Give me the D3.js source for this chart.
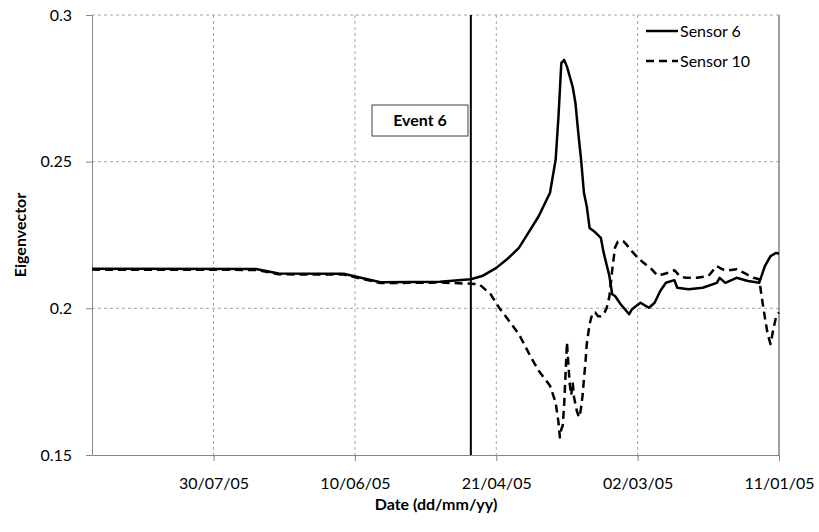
<!DOCTYPE html>
<html>
<head>
<meta charset="utf-8">
<script src="https://cdn.jsdelivr.net/npm/d3@7"></script>
<style>
  body { margin: 0; background: #fff; }
  svg { font-family: Lato, "Open Sans", sans-serif; }
</style>
</head>
<body>
<svg id="drawing_region"></svg>
<script>
// dates shown on the axis (axis runs backwards in time)
const tickDates = ["2005-07-30", "2005-06-10", "2005-04-21", "2005-03-02", "2005-01-11"];
const yTicks = [0.15, 0.2, 0.25, 0.3];
const eventDate = "2005-04-30";
const eventLabel = "Event 6";
const seriesNames = ["Sensor 6", "Sensor 10"];

const sensor6Dates = [
  "2005-09-11", "2005-07-15", "2005-07-07", "2005-06-14", "2005-06-01", "2005-05-11",
  "2005-04-30", "2005-04-26", "2005-04-21", "2005-04-17", "2005-04-13", "2005-04-10",
  "2005-04-06", "2005-04-02", "2005-03-31", "2005-03-30", "2005-03-29", "2005-03-28",
  "2005-03-27", "2005-03-25", "2005-03-24", "2005-03-23", "2005-03-22", "2005-03-21",
  "2005-03-20", "2005-03-19", "2005-03-17", "2005-03-15", "2005-03-14", "2005-03-12",
  "2005-03-11", "2005-03-10", "2005-03-08", "2005-03-05", "2005-03-04", "2005-03-01",
  "2005-02-26", "2005-02-24", "2005-02-22", "2005-02-20", "2005-02-17", "2005-02-16",
  "2005-02-12", "2005-02-07", "2005-02-02", "2005-02-01", "2005-01-30", "2005-01-26",
  "2005-01-22", "2005-01-18", "2005-01-16", "2005-01-14", "2005-01-12", "2005-01-11"
];
const sensor6Values = [
  0.2135, 0.2134, 0.2119, 0.2118, 0.2089, 0.2091,
  0.2099, 0.2110, 0.2138, 0.2169, 0.2206, 0.2252,
  0.2314, 0.2394, 0.2507, 0.2654, 0.2836, 0.2847,
  0.2824, 0.2756, 0.2700, 0.2598, 0.2507, 0.2394,
  0.2348, 0.2274, 0.2259, 0.2240, 0.2189, 0.2110,
  0.2048, 0.2042, 0.2014, 0.1980, 0.1997, 0.2019,
  0.2002, 0.2019, 0.2059, 0.2087, 0.2096, 0.2070,
  0.2065, 0.2070, 0.2087, 0.2104, 0.2087, 0.2104,
  0.2093, 0.2087, 0.2144, 0.2178, 0.2189, 0.2186
];

const sensor10Dates = [
  "2005-09-11", "2005-07-15", "2005-07-07", "2005-06-14", "2005-06-01", "2005-05-11",
  "2005-04-30", "2005-04-27", "2005-04-23", "2005-04-20", "2005-04-16", "2005-04-13",
  "2005-04-09", "2005-04-06", "2005-04-02", "2005-03-31", "2005-03-30", "2005-03-29T12:00",
  "2005-03-29", "2005-03-28T12:00", "2005-03-28", "2005-03-27T12:00", "2005-03-27", "2005-03-26T12:00",
  "2005-03-26", "2005-03-25T12:00", "2005-03-25", "2005-03-24T12:00", "2005-03-24", "2005-03-23T12:00",
  "2005-03-23", "2005-03-22T12:00", "2005-03-22", "2005-03-21T12:00", "2005-03-21", "2005-03-20T12:00",
  "2005-03-20", "2005-03-19", "2005-03-18", "2005-03-17", "2005-03-16", "2005-03-15",
  "2005-03-14", "2005-03-13", "2005-03-12", "2005-03-11", "2005-03-10", "2005-03-09",
  "2005-03-08", "2005-03-07", "2005-03-06", "2005-03-04", "2005-03-02", "2005-02-28",
  "2005-02-25", "2005-02-23", "2005-02-21", "2005-02-19", "2005-02-17", "2005-02-15",
  "2005-02-13", "2005-02-09", "2005-02-05", "2005-02-02", "2005-01-31", "2005-01-29",
  "2005-01-26", "2005-01-23", "2005-01-20", "2005-01-18", "2005-01-17", "2005-01-16",
  "2005-01-15", "2005-01-14", "2005-01-13", "2005-01-12", "2005-01-11"
];
const sensor10Values = [
  0.2132, 0.2131, 0.2116, 0.2115, 0.2086, 0.2088,
  0.2084, 0.2082, 0.2048, 0.2002, 0.1951, 0.1912,
  0.1838, 0.1787, 0.1736, 0.1679, 0.1611, 0.1560,
  0.1588, 0.1600, 0.1670, 0.1775, 0.1884, 0.1809,
  0.1741, 0.1704, 0.1748, 0.1697, 0.1673, 0.1650,
  0.1636, 0.1629, 0.1663, 0.1701, 0.1758, 0.1810,
  0.1878, 0.1946, 0.1983, 0.1986, 0.1973, 0.1973,
  0.1980, 0.2000, 0.2040, 0.2130, 0.2207, 0.2228,
  0.2229, 0.2228, 0.2218, 0.2194, 0.2173, 0.2156,
  0.2133, 0.2112, 0.2116, 0.2122, 0.2130, 0.2109,
  0.2104, 0.2104, 0.2110, 0.2144, 0.2133, 0.2129,
  0.2133, 0.2119, 0.2104, 0.2099, 0.2031, 0.1969,
  0.1912, 0.1878, 0.1929, 0.1973, 0.1986
];

const config = {
  width: 819,
  height: 532,
  margin: { left: 92, top: 15, right: 40, bottom: 77 }
};

const parse = s => new Date(s.length > 10 ? s : s + "T00:00");
const fmt = d3.timeFormat("%d/%m/%y");

const svg = d3.select("#drawing_region")
  .attr("width", config.width)
  .attr("height", config.height);

const plotLeft = config.margin.left;
const plotTop = config.margin.top;
const plotRight = config.width - config.margin.right;
const plotBottom = config.height - config.margin.bottom;

// time goes right-to-left here
const xScale = d3.scaleTime()
  .domain([parse("2005-09-11"), parse("2005-01-11")])
  .range([plotLeft, plotRight]);

const yScale = d3.scaleLinear()
  .domain([0.15, 0.3])
  .range([plotBottom, plotTop]);

// grid
const grid = svg.append("g");
grid.selectAll(".hgrid")
  .data(yTicks.filter(v => v > 0.15))
  .enter()
  .append("line")
  .attr("x1", plotLeft).attr("x2", plotRight)
  .attr("y1", d => yScale(d)).attr("y2", d => yScale(d))
  .attr("stroke", "#a6a6a6")
  .attr("stroke-dasharray", "3,3");
grid.selectAll(".vgrid")
  .data(tickDates.slice(0, -1))
  .enter()
  .append("line")
  .attr("x1", d => xScale(parse(d))).attr("x2", d => xScale(parse(d)))
  .attr("y1", plotTop).attr("y2", plotBottom)
  .attr("stroke", "#a6a6a6")
  .attr("stroke-dasharray", "3,3");

// right border
svg.append("line")
  .attr("x1", plotRight).attr("x2", plotRight)
  .attr("y1", plotTop).attr("y2", plotBottom)
  .attr("stroke", "#7f7f7f")
  .attr("stroke-width", 1.5);

// axes
const xAxis = d3.axisBottom(xScale)
  .tickValues(tickDates.map(parse))
  .tickFormat(fmt)
  .tickSize(6)
  .tickSizeOuter(0);
const yAxis = d3.axisLeft(yScale)
  .tickValues(yTicks)
  .tickFormat(d => String(d))
  .tickSize(6)
  .tickSizeOuter(0);

const gx = svg.append("g")
  .attr("transform", `translate(0, ${plotBottom})`)
  .call(xAxis);
const gy = svg.append("g")
  .attr("transform", `translate(${plotLeft}, 0)`)
  .call(yAxis);

[gx, gy].forEach(g => {
  g.select(".domain").attr("stroke", "#868686");
  g.selectAll(".tick line").attr("stroke", "#868686");
  g.selectAll(".tick text")
    .attr("fill", "#000")
    .style("font-size", "16px")
    .style("font-family", "Lato, sans-serif");
});
gx.selectAll(".tick text").attr("dy", "1.55em");
gy.selectAll(".tick text").attr("x", -20);

// axis titles
svg.append("text")
  .attr("x", 436)
  .attr("y", 510)
  .attr("text-anchor", "middle")
  .style("font-size", "16px")
  .style("font-weight", "bold")
  .text("Date (dd/mm/yy)");

svg.append("text")
  .attr("transform", `translate(26, ${(plotTop + plotBottom) / 2}) rotate(-90)`)
  .attr("text-anchor", "middle")
  .style("font-size", "16px")
  .style("font-weight", "bold")
  .text("Eigenvector");

// series
const line = d3.line()
  .x(d => xScale(d.date))
  .y(d => yScale(d.value));

const s6 = sensor6Dates.map((d, i) => ({ date: parse(d), value: sensor6Values[i] }));
const s10 = sensor10Dates.map((d, i) => ({ date: parse(d), value: sensor10Values[i] }));

svg.append("path")
  .datum(s10)
  .attr("d", line)
  .attr("fill", "none")
  .attr("stroke", "#000")
  .attr("stroke-width", 2.5)
  .attr("stroke-dasharray", "8,5")
  .attr("stroke-linejoin", "round");

svg.append("path")
  .datum(s6)
  .attr("d", line)
  .attr("fill", "none")
  .attr("stroke", "#000")
  .attr("stroke-width", 2.5)
  .attr("stroke-linejoin", "round");

// event marker
const ex = xScale(parse(eventDate));
svg.append("line")
  .attr("x1", ex).attr("x2", ex)
  .attr("y1", plotTop).attr("y2", plotBottom)
  .attr("stroke", "#000")
  .attr("stroke-width", 2);

svg.append("rect")
  .attr("x", 372).attr("y", 105)
  .attr("width", 96).attr("height", 31)
  .attr("fill", "#fff")
  .attr("stroke", "#404040")
  .attr("stroke-width", 1);
svg.append("text")
  .attr("x", 420).attr("y", 126)
  .attr("text-anchor", "middle")
  .style("font-size", "16px")
  .style("font-weight", "bold")
  .text(eventLabel);

// legend
const legend = svg.append("g").attr("transform", "translate(646, 0)");
legend.selectAll("line")
  .data(seriesNames)
  .enter()
  .append("line")
  .attr("x1", 0).attr("x2", 32)
  .attr("y1", (d, i) => 31 + i * 30).attr("y2", (d, i) => 31 + i * 30)
  .attr("stroke", "#000")
  .attr("stroke-width", 2.5)
  .attr("stroke-dasharray", (d, i) => i ? "8,5" : null);
legend.selectAll("text")
  .data(seriesNames)
  .enter()
  .append("text")
  .attr("x", 34)
  .attr("y", (d, i) => 31 + i * 30)
  .attr("dy", "0.35em")
  .style("font-size", "16px")
  .text(d => d);
</script>
</body>
</html>
